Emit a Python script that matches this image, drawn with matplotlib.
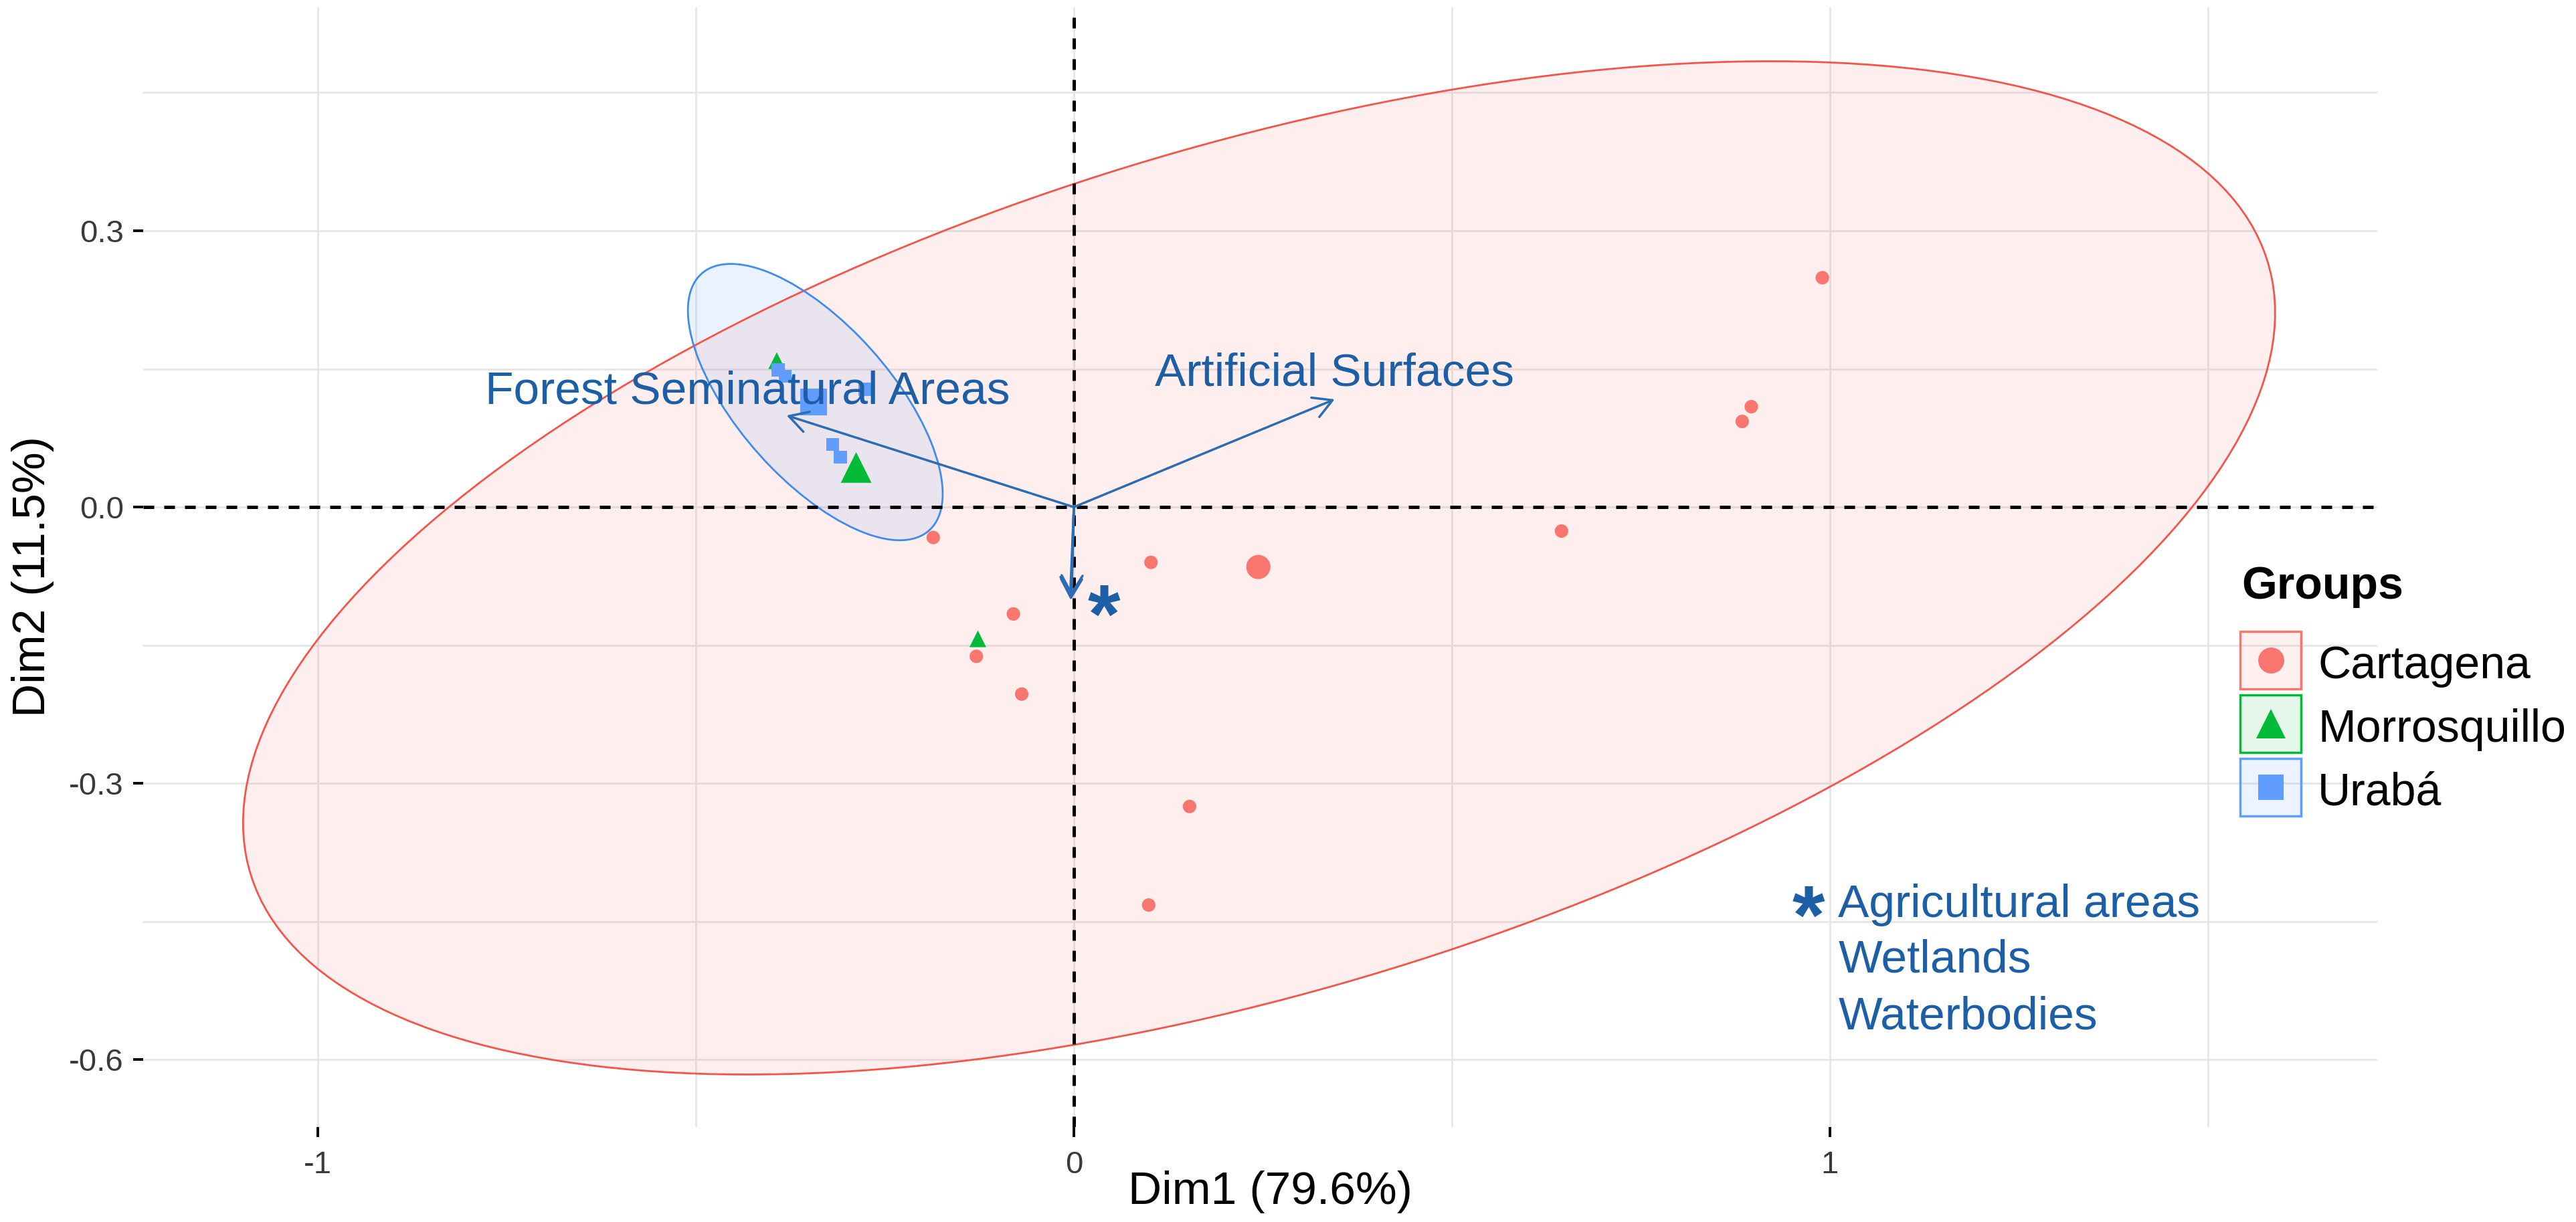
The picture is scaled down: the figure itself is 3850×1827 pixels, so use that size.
import numpy as np
import matplotlib
matplotlib.use("Agg")
import matplotlib.pyplot as plt
from matplotlib.patches import Ellipse, Rectangle
from matplotlib.lines import Line2D

plt.rcParams['font.family'] = ['Liberation Sans', 'DejaVu Sans']

# ---------------- data ----------------
groups = ["Cartagena", "Morrosquillo", "Urabá"]
group_colors = ["#F8766D", "#00BA38", "#619CFF"]
group_markers = ["o", "^", "s"]

cartagena_x = [0.990, 0.896, 0.884, 0.645, 0.102, -0.186, -0.080, -0.129, -0.069, 0.153, 0.099]
cartagena_y = [0.249, 0.109, 0.093, -0.026, -0.060, -0.033, -0.116, -0.162, -0.203, -0.325, -0.432]
morrosquillo_x = [-0.393, -0.127]
morrosquillo_y = [0.159, -0.143]
uraba_x = [-0.391, -0.382, -0.276, -0.319, -0.309]
uraba_y = [0.149, 0.142, 0.128, 0.068, 0.054]

centroid_x = [0.244, -0.288, -0.344]
centroid_y = [-0.065, 0.043, 0.114]

# concentration ellipses (center and covariance-like shape)
ellipse_groups = ["Cartagena", "Urabá"]
ellipse_cx = [0.245, -0.342]
ellipse_cy = [-0.066, 0.114]
ellipse_sxx = [1.806, 0.02839]
ellipse_syy = [0.3025, 0.0225]
ellipse_sxy = [0.372, -0.01677]
ellipse_edge = ["#F4554A", "#3F8CEE"]

# variable arrows
variables = ["Forest Seminatural Areas", "Artificial Surfaces",
             "Agricultural areas", "Wetlands", "Waterbodies"]
var_x = [-0.380, 0.345, -0.004, -0.003, -0.005]
var_y = [0.0995, 0.117, -0.101, -0.097, -0.099]
var_labels = ["Forest Seminatural Areas", "Artificial Surfaces", "*"]
var_label_x = [-0.432, 0.345, 0.040]
var_label_y = [0.1126, 0.132, -0.147]

footnote_lines = ["Agricultural areas", "Wetlands", "Waterbodies"]

x_ticks = [-1, 0, 1]
x_ticklabels = ["-1", "0", "1"]
y_ticks = [-0.6, -0.3, 0.0, 0.3]
y_ticklabels = ["-0.6", "-0.3", "0.0", "0.3"]
x_minor = [-0.5, 0.5, 1.5]
y_minor = [-0.45, -0.15, 0.15, 0.45]

# ---------------- figure ----------------
W, H = 3850, 1827
fig = plt.figure(figsize=(W / 100, H / 100), dpi=100)

def fx(px):
    return px / W

def fy(py):
    return 1 - py / H

pl, pr, pt, pb = 214, 3553, 11, 1685
ax = fig.add_axes([fx(pl), fy(pb), fx(pr - pl), (pb - pt) / H])
ax.set_xlim(-1.231, 1.724)
ax.set_ylim(-0.673, 0.5425)
for s in ax.spines.values():
    s.set_visible(False)

var_color = "#1d5fa7"
arrow_color = "#2b6cb3"

ax.set_xticks(x_ticks)
ax.set_xticklabels(x_ticklabels)
ax.set_yticks(y_ticks)
ax.set_yticklabels(y_ticklabels)
ax.set_xticks(x_minor, minor=True)
ax.set_yticks(y_minor, minor=True)
ax.tick_params(which="major", length=11, width=2.8, color="black",
               labelsize=34, labelcolor="#3a3a3a")
ax.tick_params(axis="y", which="major", pad=10)
ax.tick_params(axis="x", which="major", pad=14)
ax.tick_params(which="minor", length=0)
ax.grid(True, which="both", color="#e6e6e6", lw=2.0, zorder=0)
ax.set_axisbelow(True)

# ellipses
for cx, cy, sxx, syy, sxy, g, ec in zip(ellipse_cx, ellipse_cy, ellipse_sxx,
                                        ellipse_syy, ellipse_sxy, ellipse_groups, ellipse_edge):
    S = np.array([[sxx, sxy], [sxy, syy]])
    vals, vecs = np.linalg.eigh(S)
    order = np.argsort(vals)[::-1]
    vals, vecs = vals[order], vecs[:, order]
    ang = np.degrees(np.arctan2(vecs[1, 0], vecs[0, 0]))
    col = group_colors[groups.index(g)]
    ax.add_patch(Ellipse((cx, cy), 2 * np.sqrt(vals[0]), 2 * np.sqrt(vals[1]), angle=ang,
                         facecolor=col, alpha=0.12, edgecolor="none", zorder=1))
    ax.add_patch(Ellipse((cx, cy), 2 * np.sqrt(vals[0]), 2 * np.sqrt(vals[1]), angle=ang,
                         facecolor="none", edgecolor=ec, lw=2.0, zorder=1.5))

# reference dashed lines
ax.axhline(0, color="black", lw=3.6, dashes=(3.2, 3.0), zorder=2)
ax.axvline(0, color="black", lw=3.6, dashes=(3.2, 3.0), zorder=2)

# individuals
ax.scatter(cartagena_x, cartagena_y, s=14.5 ** 2, marker="o", color=group_colors[0],
           edgecolors="none", zorder=3)
ax.scatter(morrosquillo_x, morrosquillo_y, s=18 ** 2, marker="^", color=group_colors[1],
           edgecolors="none", zorder=3)
ax.scatter(uraba_x, uraba_y, s=14 ** 2, marker="s", color=group_colors[2],
           edgecolors="none", zorder=3)
# group means
cent_sizes = [26, 33, 29]
for i in range(3):
    ax.scatter([centroid_x[i]], [centroid_y[i]], s=cent_sizes[i] ** 2, marker=group_markers[i],
               color=group_colors[i], edgecolors="none", zorder=3.2)

# variable arrows
for vx, vy in zip(var_x, var_y):
    ax.annotate("", xy=(vx, vy), xytext=(0, 0),
                arrowprops=dict(arrowstyle="->,head_length=0.8,head_width=0.45",
                                color=arrow_color, lw=2.5, mutation_scale=25,
                                shrinkA=0, shrinkB=0),
                zorder=4)

for lab, lx, ly in zip(var_labels, var_label_x, var_label_y):
    if lab == "*":
        ax.text(lx, ly, lab, fontsize=90, fontweight="bold", color=var_color,
                ha="center", va="baseline", zorder=5)
    else:
        ax.text(lx, ly, lab, fontsize=50, color=var_color, ha="center",
                va="baseline", zorder=5)

# footnote
ax.text(0.972, -0.4735, "*", fontsize=90, fontweight="bold", color=var_color,
        ha="center", va="baseline", zorder=5)
foot_y = [-0.445, -0.5047, -0.5665]
for line, yy in zip(footnote_lines, foot_y):
    ax.text(1.011, yy, line, fontsize=50, color=var_color, ha="left",
            va="baseline", zorder=5)

# axis titles
fig.text(fx(1898), fy(1800), "Dim1 (79.6%)", fontsize=50, color="black",
         ha="center", va="baseline")
fig.text(fx(67), fy(862), "Dim2 (11.5%)", fontsize=50, color="black",
         ha="center", va="baseline", rotation=90, rotation_mode="anchor")

# legend
fig.text(fx(3350), fy(895), "Groups", fontsize=49, fontweight="bold",
         color="black", ha="left", va="baseline")
key_tops = [944, 1039, 1134]
label_base = [1014, 1109, 1203]
key_msize = [28, 32, 28]
for i, g in enumerate(groups):
    col = group_colors[i]
    kx0, kw, kh = 3348, 91, 86
    fig.add_artist(Rectangle((fx(kx0), fy(key_tops[i] + kh)), fx(kw), kh / H,
                             transform=fig.transFigure, facecolor=col, alpha=0.1,
                             edgecolor="none"))
    fig.add_artist(Rectangle((fx(kx0), fy(key_tops[i] + kh)), fx(kw), kh / H,
                             transform=fig.transFigure, facecolor="none",
                             edgecolor=col, lw=2.5))
    fig.add_artist(Line2D([fx(kx0 + kw / 2)], [fy(key_tops[i] + kh / 2)],
                          transform=fig.transFigure, marker=group_markers[i],
                          markersize=key_msize[i], color=col, markeredgewidth=0,
                          linestyle="none"))
    fig.text(fx(3464), fy(label_base[i]), g, fontsize=49, color="black",
             ha="left", va="baseline")

fig.savefig("out.png", dpi=100, facecolor="white")
